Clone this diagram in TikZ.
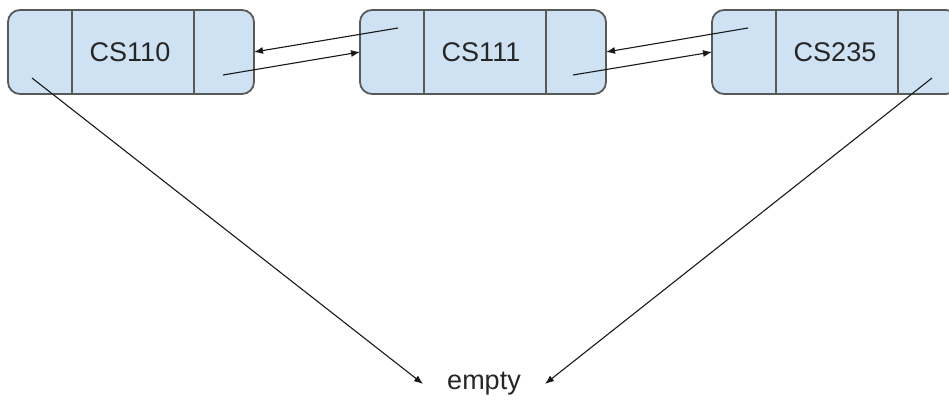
\documentclass[tikz,border=0pt]{standalone}
\usepackage{fontspec}
\setmainfont{Liberation Sans}
\usetikzlibrary{arrows.meta}
\definecolor{boxfill}{HTML}{CFE2F3}
\definecolor{boxline}{HTML}{595959}
\begin{document}
\begin{tikzpicture}[x=1pt,y=-1pt,
  listbox/.style={draw=boxline, fill=boxfill, line width=1.8pt, rounded corners=12pt,
    minimum width=246pt, minimum height=84pt, inner sep=0pt, outer sep=0pt},
  divider/.style={draw=boxline, line width=1.8pt},
  lbl/.style={font=\fontsize{27}{32}\selectfont, text=black!85, inner sep=0pt},
  ptr/.style={draw=black!90, line width=1.1pt, -{Latex[length=9pt,width=7pt]}}]
\useasboundingbox (0,0) rectangle (949,404);
\clip (0,0) rectangle (949,404);
% boxes
\node[listbox] (b1) at (131,52) {};
\node[listbox] (b2) at (483,52) {};
\node[listbox] (b3) at (835,52) {};
\foreach \b in {b1,b2,b3}{
  \draw[divider] ([xshift=64pt]\b.north west) -- ([xshift=64pt]\b.south west);
  \draw[divider] ([xshift=186pt]\b.north west) -- ([xshift=186pt]\b.south west);
}
\node[lbl] (t1) at ([xshift=-1pt]b1.center) {CS110};
\node[lbl] (t2) at ([xshift=-2pt]b2.center) {CS111};
\node[lbl] (t3) at (b3.center) {CS235};
\node[font=\fontsize{27}{32}\selectfont, text=black!85, inner xsep=24pt, inner ysep=0pt] (e) at (484,384) {empty};
% pointer start points
\coordinate (p1r) at (223,75);
\coordinate (p2l) at (398,28);
\coordinate (p2r) at (573,75);
\coordinate (p3l) at (748,28);
\coordinate (p1d) at (32,78);
\coordinate (p3d) at (932,78);
\draw[ptr] (p2l) -- (b1.east);
\draw[ptr] (p1r) -- (b2.west);
\draw[ptr] (p3l) -- (b2.east);
\draw[ptr] (p2r) -- (b3.west);
\draw[ptr] (p1d) -- (e.west);
\draw[ptr] (p3d) -- (e.east);
\end{tikzpicture}
\end{document}
